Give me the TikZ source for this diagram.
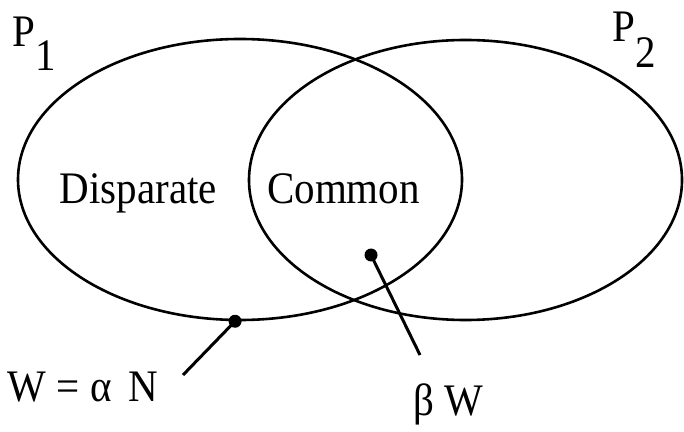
\documentclass[tikz,border=0pt]{standalone}
\usepackage{fontspec}
\setmainfont{Liberation Serif}
\usetikzlibrary{shapes.geometric}
\begin{document}
\begin{tikzpicture}[x=1pt,y=1pt,
  setring/.style={ellipse,draw,line width=2.6pt,inner sep=0pt},
  lbl/.style={inner sep=0pt,font=\fontsize{41}{41}\selectfont,yscale=1.1,transform shape},
  pin/.style={line width=3pt},
  pindot/.style={circle,fill,inner sep=0pt,minimum size=13pt}]
\useasboundingbox (0,0) rectangle (684,431);

% the two sets
\node[setring,minimum width=444pt,minimum height=281pt] (L) at (240,251.5) {};
\node[setring,minimum width=433pt,minimum height=280pt] (R) at (465.5,251) {};

% set names
\node[lbl,anchor=base west] (p1) at (12.5,384) {P\raisebox{-21pt}{1}};
\node[lbl,anchor=base west] (p2) at (612.5,389) {P\raisebox{-23.5pt}{2}};

% region names
\node[lbl,anchor=base west] (disp) at (59.5,227) {Disparate};
\node[lbl,anchor=base west] (comm) at (267,227) {Common};

% pointers
\node[pindot] (dw) at (L.-92) {};
\node[pindot] (db) at (371,176) {};
\coordinate (ew) at (183,56);
\coordinate (eb) at (420,76);
\draw[pin] (dw.center) -- (ew);
\draw[pin] (db.center) -- (eb);

% pointer labels
\node[lbl,anchor=base west] (wl) at (7.5,30) {W = α\, N};
\node[lbl,anchor=base west] (bl) at (413,16) {β W};
\end{tikzpicture}
\end{document}
